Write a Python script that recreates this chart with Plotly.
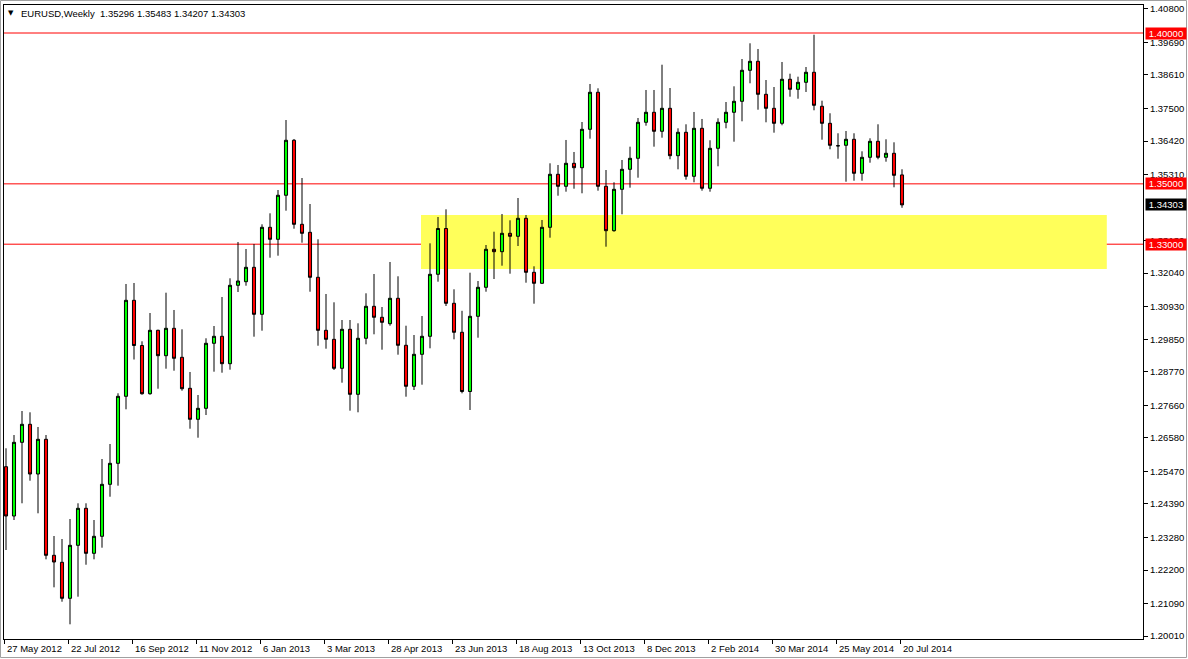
import plotly.graph_objects as go

# ---------------- data (EURUSD weekly) ----------------
opens = [
    1.25625, 1.23991, 1.26433, 1.27030, 1.25383, 1.26533, 1.22688, 1.22456, 1.21263, 1.23019,
    1.24246, 1.22754, 1.23318, 1.25041, 1.25737, 1.27958, 1.31140, 1.29642, 1.28044, 1.30146,
    1.29304, 1.30212, 1.29251, 1.28223, 1.27196, 1.27560, 1.29715, 1.29947, 1.29039, 1.31637,
    1.31757, 1.32234, 1.30676, 1.33560, 1.33162, 1.34621, 1.36444, 1.33659, 1.33394, 1.31903,
    1.30146, 1.29847, 1.28886, 1.30179, 1.28024, 1.29881, 1.30941, 1.30577, 1.30365, 1.31207,
    1.29649, 1.28290, 1.29350, 1.29947, 1.32002, 1.33520, 1.31041, 1.30080, 1.28117, 1.30610,
    1.31571, 1.32831, 1.32751, 1.33361, 1.33262, 1.33858, 1.32068, 1.31704, 1.33560, 1.35317,
    1.34919, 1.35681, 1.35535, 1.36808, 1.38035, 1.34919, 1.33447, 1.34819, 1.35482, 1.35847,
    1.37040, 1.37372, 1.36742, 1.37504, 1.35933, 1.36709, 1.35250, 1.36841, 1.34853, 1.36178,
    1.37040, 1.37372, 1.37736, 1.38764, 1.39062, 1.37968, 1.37504, 1.37007, 1.38466, 1.38134,
    1.38366, 1.38698, 1.37571, 1.37007, 1.36265, 1.36278, 1.36477, 1.35350, 1.35880, 1.36410,
    1.35880, 1.36013, 1.35296,
]
highs = [
    1.26235, 1.26675, 1.27471, 1.27428, 1.26941, 1.26675, 1.23328, 1.23228, 1.23891, 1.24412,
    1.24412, 1.23858, 1.25880, 1.26377, 1.28058, 1.31681, 1.31714, 1.29781, 1.30719, 1.30166,
    1.31392, 1.30819, 1.30179, 1.28764, 1.28001, 1.29881, 1.30288, 1.31250, 1.31869, 1.33073,
    1.32841, 1.33006, 1.33659, 1.34024, 1.34796, 1.37116, 1.36487, 1.35194, 1.34332, 1.33162,
    1.31349, 1.31074, 1.30487, 1.30487, 1.30378, 1.31372, 1.32012, 1.30918, 1.32410, 1.31936,
    1.30298, 1.29990, 1.30620, 1.33029, 1.33901, 1.34156, 1.31505, 1.30792, 1.32055, 1.31780,
    1.32973, 1.33414, 1.34001, 1.33792, 1.34531, 1.33968, 1.32267, 1.33802, 1.35681, 1.35625,
    1.36454, 1.36056, 1.37050, 1.38310, 1.38167, 1.35459, 1.35051, 1.35791, 1.36232, 1.37183,
    1.38111, 1.38111, 1.38949, 1.38177, 1.36841, 1.36974, 1.37382, 1.37150, 1.36444, 1.37173,
    1.37713, 1.38233, 1.39138, 1.39659, 1.39470, 1.38442, 1.38210, 1.39039, 1.38651, 1.38552,
    1.38873, 1.39944, 1.37756, 1.37339, 1.36676, 1.36752, 1.36676, 1.36079, 1.36510, 1.36974,
    1.36477, 1.36377, 1.35483,
]
lows = [
    1.22864, 1.23858, 1.24412, 1.25161, 1.24080, 1.22555, 1.21627, 1.21150, 1.20401, 1.21316,
    1.22376, 1.22555, 1.22940, 1.24630, 1.24995, 1.27527, 1.29178, 1.28011, 1.28011, 1.28210,
    1.28873, 1.28807, 1.28144, 1.26884, 1.26586, 1.27338, 1.28774, 1.28741, 1.28840, 1.31415,
    1.31624, 1.29934, 1.30133, 1.32552, 1.32619, 1.34110, 1.33513, 1.33049, 1.31425, 1.29635,
    1.29536, 1.28830, 1.28409, 1.27481, 1.27428, 1.29682, 1.30013, 1.29503, 1.30298, 1.29337,
    1.27945, 1.28167, 1.28343, 1.29549, 1.31757, 1.30951, 1.29847, 1.28057, 1.27504, 1.29901,
    1.31425, 1.31846, 1.32287, 1.32022, 1.32940, 1.31724, 1.31028, 1.31681, 1.33215, 1.34607,
    1.34740, 1.34839, 1.34687, 1.36497, 1.34773, 1.32917, 1.33414, 1.33991, 1.34873, 1.35204,
    1.36928, 1.36232, 1.36530, 1.35814, 1.35482, 1.35138, 1.35051, 1.34773, 1.34740, 1.35582,
    1.36841, 1.36397, 1.37073, 1.38333, 1.37458, 1.37040, 1.36696, 1.36941, 1.37889, 1.37822,
    1.38045, 1.37438, 1.36463, 1.36145, 1.35834, 1.35071, 1.35104, 1.35104, 1.35701, 1.35814,
    1.35734, 1.34886, 1.34207,
]
closes = [
    1.23991, 1.26433, 1.27030, 1.25383, 1.26533, 1.22688, 1.22466, 1.21263, 1.23019, 1.24246,
    1.22754, 1.23318, 1.25041, 1.25737, 1.27958, 1.31140, 1.29642, 1.28044, 1.30146, 1.29304,
    1.30212, 1.29218, 1.28210, 1.27196, 1.27560, 1.29715, 1.29947, 1.29039, 1.31637, 1.31780,
    1.32234, 1.30676, 1.33560, 1.33162, 1.34621, 1.36444, 1.33659, 1.33361, 1.31903, 1.30146,
    1.29847, 1.28886, 1.30179, 1.28024, 1.29881, 1.30941, 1.30577, 1.30411, 1.31207, 1.29649,
    1.28290, 1.29350, 1.29947, 1.32002, 1.33520, 1.31041, 1.30080, 1.28117, 1.30610, 1.31571,
    1.32831, 1.32751, 1.33361, 1.33262, 1.33858, 1.32068, 1.31704, 1.33560, 1.35317, 1.34919,
    1.35681, 1.35535, 1.36808, 1.38035, 1.34919, 1.33447, 1.34819, 1.35482, 1.35847, 1.37040,
    1.37372, 1.36742, 1.37504, 1.35933, 1.36709, 1.35250, 1.36841, 1.34853, 1.36178, 1.37040,
    1.37372, 1.37736, 1.38764, 1.39062, 1.37968, 1.37504, 1.37007, 1.38466, 1.38134, 1.38366,
    1.38698, 1.37604, 1.37007, 1.36278, 1.36260, 1.36477, 1.35350, 1.35880, 1.36410, 1.35880,
    1.36013, 1.35283, 1.34303,
]

date_labels = ["27 May 2012", "22 Jul 2012", "16 Sep 2012", "11 Nov 2012", "6 Jan 2013",
               "3 Mar 2013", "28 Apr 2013", "23 Jun 2013", "18 Aug 2013", "13 Oct 2013",
               "8 Dec 2013", "2 Feb 2014", "30 Mar 2014", "25 May 2014", "20 Jul 2014"]
date_label_bars = [0, 8, 16, 24, 32, 40, 48, 56, 64, 72, 80, 88, 96, 104, 112]

price_ticks = [1.40800, 1.39690, 1.38610, 1.37500, 1.36420, 1.35310, 1.33130,
               1.32040, 1.30930, 1.29850, 1.28770, 1.27660, 1.26580, 1.25470, 1.24390,
               1.23280, 1.22200, 1.21090, 1.20010]

level_lines = [1.40000, 1.35000, 1.33000]
zone_low, zone_high = 1.32178, 1.33968
zone_start_bar, zone_end_bar = 51.875, 137.6
title_text = "EURUSD,Weekly  1.35296 1.35483 1.34207 1.34303"
last_price = 1.34303

# ---------------- figure ----------------
W, H = 1188, 659
L_M, R_M, T_M, B_M = 4, 45, 5, 20
PW, PH = W - L_M - R_M, H - T_M - B_M
FONT = "Liberation Sans"
FS = 9.5

x = list(range(len(opens)))

fig = go.Figure()
fig.add_trace(go.Candlestick(
    x=x, open=opens, high=highs, low=lows, close=closes,
    increasing=dict(line=dict(color="black", width=1), fillcolor="#00FF00"),
    decreasing=dict(line=dict(color="black", width=1), fillcolor="#FF0000"),
    whiskerwidth=0, hoverinfo="skip", showlegend=False,
))

shapes = [dict(type="rect", xref="x", yref="y", x0=zone_start_bar, x1=zone_end_bar,
               y0=zone_low, y1=zone_high, fillcolor="#FFFF5A", line=dict(width=0),
               layer="below")]
for lv in level_lines:
    shapes.append(dict(type="line", xref="paper", yref="y", x0=0, x1=1, y0=lv, y1=lv,
                       line=dict(color="#FF0000", width=1), layer="below"))
# outer window border
shapes.append(dict(type="rect", xref="paper", yref="paper",
                   x0=-(L_M - 0.5) / PW, x1=(W - L_M - 1.5) / PW,
                   y0=-(B_M - 1.5) / PH, y1=1 + (T_M - 0.5) / PH,
                   line=dict(color="#A0A0A0", width=1), layer="above"))

annotations = []
# title
annotations.append(dict(xref="paper", yref="paper", x=(19 - L_M) / PW, y=1 - (13 - T_M) / PH,
                        xanchor="left", yanchor="middle", showarrow=False, text=title_text,
                        font=dict(family=FONT, size=FS, color="black")))
annotations.append(dict(xref="paper", yref="paper", x=(11 - L_M) / PW, y=1 - (12.5 - T_M) / PH,
                        xanchor="center", yanchor="middle", showarrow=False, text="▼",
                        font=dict(family="DejaVu Sans", size=7, color="black")))
# date labels
for b, lab in zip(date_label_bars, date_labels):
    annotations.append(dict(xref="x", yref="paper", x=b - 0.25, y=0, xanchor="left",
                            yanchor="top", xshift=1, yshift=-2, showarrow=False, text=lab,
                            font=dict(family=FONT, size=FS, color="black")))
# price boxes
for lv in level_lines:
    annotations.append(dict(xref="paper", yref="y", x=1, y=lv, xanchor="left", yanchor="middle",
                            xshift=2, showarrow=False, text=f"{lv:.5f}", bgcolor="#FF0000",
                            width=40, height=11, borderpad=0,
                            font=dict(family=FONT, size=FS, color="white")))
annotations.append(dict(xref="paper", yref="y", x=1, y=last_price, xanchor="left", yanchor="middle",
                        xshift=2, showarrow=False, text=f"{last_price:.5f}", bgcolor="#000000",
                        width=40, height=11, borderpad=0,
                        font=dict(family=FONT, size=FS, color="white")))

y_top = 1.40928
y_bot = 1.19914
x_left = -0.25
x_right = x_left + PW / 8.0

fig.update_layout(
    width=W, height=H,
    margin=dict(l=L_M, r=R_M, t=T_M, b=B_M, pad=0),
    paper_bgcolor="white", plot_bgcolor="white",
    boxgap=0.45,
    shapes=shapes, annotations=annotations,
    showlegend=False,
    xaxis=dict(range=[x_left, x_right], rangeslider=dict(visible=False), showgrid=False,
               zeroline=False, showline=True, linecolor="black", linewidth=1, mirror=True,
               tickmode="array", tickvals=[b - 0.25 for b in date_label_bars],
               ticks="outside", ticklen=4, tickcolor="black", tickwidth=1,
               showticklabels=False, fixedrange=True),
    yaxis=dict(range=[y_bot, y_top], side="right", showgrid=False, zeroline=False,
               showline=True, linecolor="black", linewidth=1, mirror=True,
               tickmode="array", tickvals=price_ticks,
               ticktext=[f"{v:.5f}" for v in price_ticks],
               ticks="outside", ticklen=4, tickcolor="black", tickwidth=1,
               tickfont=dict(family=FONT, size=FS, color="black"), fixedrange=True),
)

fig.write_html(
    "out.html",
    config={"displayModeBar": False},
    post_script="document.body.style.margin='0';document.body.style.padding='0';"
                "document.documentElement.style.overflow='hidden';",
)
